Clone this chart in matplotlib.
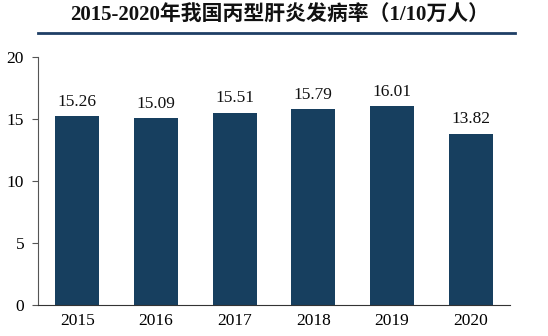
import matplotlib.pyplot as plt
from matplotlib.lines import Line2D

years = ["2015", "2016", "2017", "2018", "2019", "2020"]
rates = [15.26, 15.09, 15.51, 15.79, 16.01, 13.82]
y_ticks = [0, 5, 10, 15, 20]

title = "2015-2020年我国丙型肝炎发病率（1/10万人）"
bar_color = "#173F5F"
serif = ["Liberation Serif", "Noto Sans CJK SC"]

plt.rcParams["font.family"] = serif

fig = plt.figure(figsize=(5.48, 3.36), dpi=100)
ax = fig.add_axes([38 / 548, 1 - 305 / 336, (510 - 38) / 548, (305 - 57) / 336])

x = range(len(years))
bars = ax.bar(x, rates, width=0.56, color=bar_color)

for xi, v in zip(x, rates):
    ax.text(xi, v + 0.5, f"{v:.2f}", ha="center", va="bottom", fontsize=12.5, color="#111111")

ax.set_xlim(-0.5, len(years) - 0.5)
ax.set_ylim(0, 20)
ax.set_yticks(y_ticks)
ax.set_xticks(list(x))
ax.set_xticklabels(years)
ax.tick_params(axis="x", length=0, labelsize=12.5, pad=6)
ax.tick_params(axis="y", direction="out", length=4, labelsize=12.5, pad=6, color="#555555")

for side in ("top", "right"):
    ax.spines[side].set_visible(False)
ax.spines["left"].set_color("#555555")
ax.spines["bottom"].set_color("#333333")

# title and rule underneath
fig.text(280 / 548, 1 - 16 / 336, title, ha="center", va="center", fontsize=15,
         fontweight="bold", color="#111111")
fig.add_artist(Line2D([38 / 548, 515 / 548], [1 - 33 / 336, 1 - 33 / 336],
                      color="#1F3F66", linewidth=2))

fig.savefig("out.png", dpi=100)
